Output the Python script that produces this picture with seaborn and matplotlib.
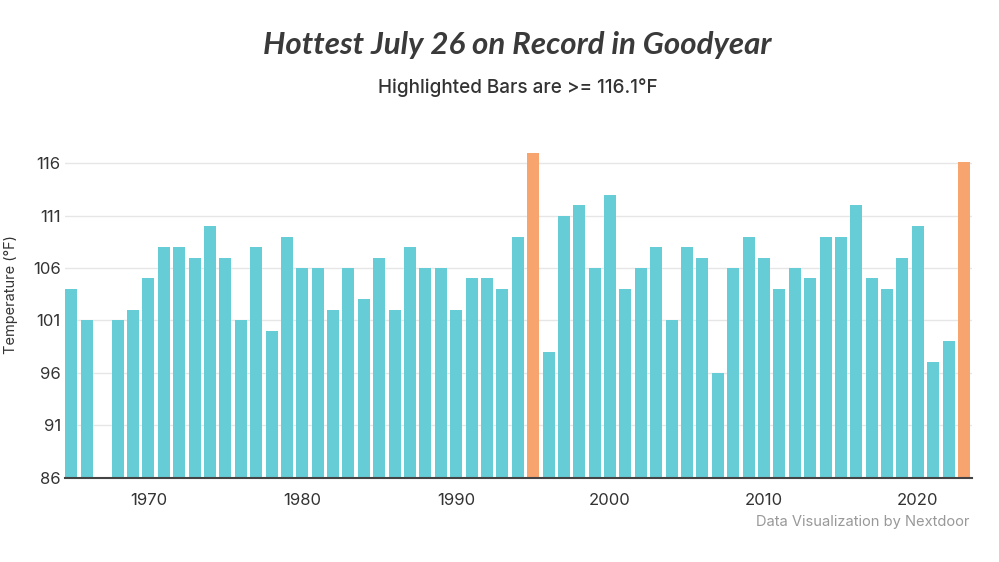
import matplotlib
matplotlib.use('Agg')

import matplotlib.pyplot as plt
import numpy as np
import pandas as pd
import seaborn as sns

# ------------------------------------------------------------
#     Data
# ------------------------------------------------------------

years = [
    1965, 1966, 1968, 1969, 1970, 1971, 1972, 1973, 1974, 1975, 1976, 1977, 1978, 1979,
    1980, 1981, 1982, 1983, 1984, 1985, 1986, 1987, 1988, 1989, 1990, 1991, 1992, 1993,
    1994, 1995, 1996, 1997, 1998, 1999, 2000, 2001, 2002, 2003, 2004, 2005, 2006, 2007,
    2008, 2009, 2010, 2011, 2012, 2013, 2014, 2015, 2016, 2017, 2018, 2019, 2020, 2021,
    2022, 2023,
]
temps = [
    104, 101, 101, 102, 105, 108, 108, 107, 110, 107, 101, 108, 100, 109,
    106, 106, 102, 106, 103, 107, 102, 108, 106, 106, 102, 105, 105, 104,
    109, 117, 98, 111, 112, 106, 113, 104, 106, 108, 101, 108, 107, 96,
    106, 109, 107, 104, 106, 105, 109, 109, 112, 105, 104, 107, 110, 97,
    99, 116.1,
]
threshold = 116.1
yticks = [86, 91, 96, 101, 106, 111, 116]
xticks = [1970, 1980, 1990, 2000, 2010, 2020]

col_normal = "#66CDD7"
col_high = "#F7A46F"
col_text = "#333333"

# ------------------------------------------------------------
#     Plot
# ------------------------------------------------------------

df = pd.DataFrame({"year": years, "temp": temps})
df["high"] = np.where(df["temp"] >= threshold, "high", "normal")

sns.set_style("white")
plt.rcParams['font.family'] = ['Inter', 'DejaVu Sans']

fig = plt.figure(figsize=(9.99, 5.62), dpi=100)
ax = fig.add_axes([0.0651, 0.150, 0.9079, 0.597])

sns.barplot(
    data=df, x="year", y="temp", hue="high", native_scale=True, dodge=False,
    palette={"normal": col_normal, "high": col_high}, width=0.78,
    saturation=1, legend=False, ax=ax, zorder=2, linewidth=0
)

ax.set_xlim(1964.58, 2023.52)
ax.set_ylim(86, 118)
ax.set_yticks(yticks)
ax.set_xticks(xticks)
ax.set_xticklabels([str(x) for x in xticks])
ax.yaxis.grid(True, color="#e6e6e6", linewidth=1, zorder=0)
ax.set_axisbelow(True)

for s in ["top", "right", "left"]:
    ax.spines[s].set_visible(False)
ax.spines["bottom"].set_color("#444444")
ax.spines["bottom"].set_linewidth(1.5)

ax.tick_params(axis="x", direction="out", length=5, width=1, color="#444444",
               labelsize=12, labelcolor=col_text, pad=6)
ax.tick_params(axis="y", length=0, labelsize=12, labelcolor=col_text, pad=3)

ax.set_xlabel("")
ax.set_ylabel("Temperature (°F)", fontsize=10.5, color=col_text)
ax.yaxis.set_label_coords(-0.052, 0.545)

# Titles and source
fig.text(0.518, 0.92, "Hottest July 26 on Record in Goodyear", ha="center", va="center",
         fontsize=22.5, fontweight="bold", fontstyle="italic", color="#3a3a3a",
         family=["Lato", "DejaVu Sans"])
fig.text(0.518, 0.845, "Highlighted Bars are >= 116.1°F", ha="center", va="center",
         fontsize=13.6, fontweight="medium", color=col_text)
fig.text(0.970, 0.072, "Data Visualization by Nextdoor", ha="right", va="center",
         fontsize=10.6, color="#999999")

plt.savefig("out.png", dpi=100)
